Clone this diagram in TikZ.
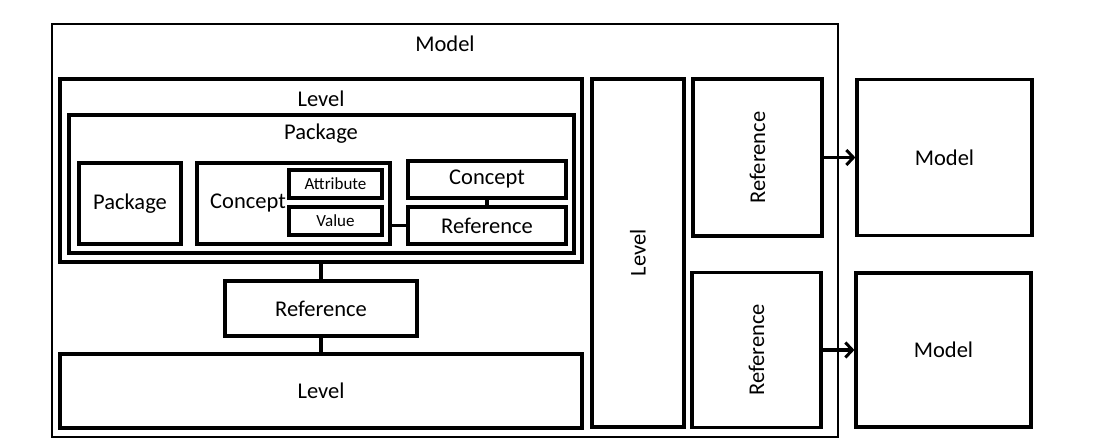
\documentclass[tikz,border=0pt]{standalone}
\usepackage{fontspec}
\setmainfont{Carlito}
\usetikzlibrary{arrows.meta}
\tikzset{
  box/.style={draw, line width=3.2pt, rectangle, inner sep=0pt, font=\fontsize{22.5}{26}\selectfont},
  smallbox/.style={box, font=\fontsize{17}{20}\selectfont},
  title/.style={inner sep=0pt, font=\fontsize{22.5}{26}\selectfont},
  link/.style={line width=3.2pt},
  arr/.style={line width=3.2pt, -{Straight Barb[length=7pt,width=15pt,line width=3pt]}}
}
\begin{document}
\begin{tikzpicture}[x=1pt,y=-1pt]
        \useasboundingbox (0,0) rectangle (1105,446);
        \node[box, line width=2.6pt, minimum width=786, minimum height=413] (model) at (445,230.5) {};
        \node[title] (modeltitle) at (445,44) {Model};

        \node[box, minimum width=522, minimum height=183] (levelA) at (321,170.5) {};
        \node[title] (levelAtitle) at (321,99) {Level};
        \node[box, minimum width=505, minimum height=138] (pkg) at (321.5,184) {};
        \node[title] (pkgtitle) at (321,134) {Package};

        \node[box, minimum width=102, minimum height=81] (subpkg) at (130,203.5) {Package};
        \node[box, minimum width=193, minimum height=81] (concept) at (293.5,203.5) {};
        \node[title] (conceptlbl) at (248,203) {Concept};
        \node[smallbox, minimum width=93, minimum height=28] (attr) at (335.5,184) {Attribute};
        \node[smallbox, minimum width=93, minimum height=28] (value) at (335.5,221) {Value};
        \node[box, minimum width=158, minimum height=37] (conceptB) at (487,179.5) {Concept};
        \node[box, minimum width=158, minimum height=37] (refA) at (487,225.5) {Reference};

        \node[box, minimum width=192, minimum height=55] (refB) at (321,308.5) {Reference};
        \node[box, minimum width=522, minimum height=74] (levelB) at (321,391) {Level};

        \node[box, minimum width=92, minimum height=348] (levelC) at (638,253) {\rotatebox{90}{Level}};
        \node[box, minimum width=129, minimum height=157] (refC) at (757.5,157.5) {\rotatebox{90}{Reference}};
        \node[box, minimum width=129, minimum height=155] (refD) at (756.5,350) {\rotatebox{90}{Reference}};
        \node[box, minimum width=175, minimum height=156] (modelB) at (944.5,157.5) {Model};
        \node[box, minimum width=175, minimum height=154] (modelC) at (943.5,350) {Model};

        \draw[link] (conceptB) -- (refA);
        \draw[link] (refA.west) -- (refA.west -| concept.east);
        \draw[link] (levelA) -- (refB);
        \draw[link] (refB) -- (levelB);
        \draw[arr] (refC) -- (modelB);
        \draw[arr] (refD) -- (modelC);
\end{tikzpicture}
\end{document}
